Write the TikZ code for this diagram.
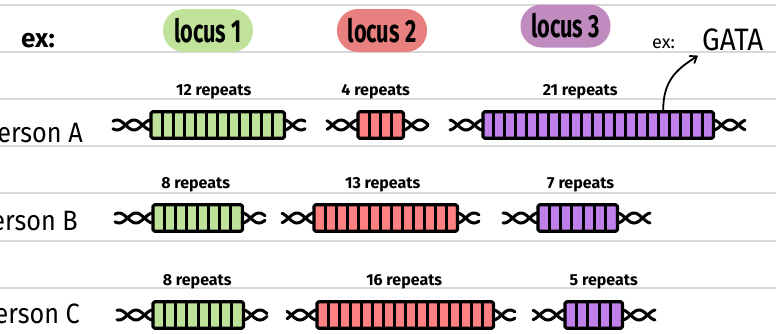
\documentclass[tikz,border=0pt]{standalone}
\usepackage{fontspec}
\usepackage{graphicx}
\setmainfont{Fira Sans}
\usetikzlibrary{arrows.meta}

\definecolor{rulegray}{HTML}{D9D9D9}
\definecolor{pillgreen}{HTML}{C1E29B}
\definecolor{pillred}{HTML}{E88080}
\definecolor{pillpurple}{HTML}{C08CC0}
\definecolor{repgreen}{HTML}{BFE29B}
\definecolor{repred}{HTML}{FF8080}
\definecolor{reppurple}{HTML}{C080EA}

\tikzset{
  ruleline/.style={draw=rulegray, line width=1.4pt},
  pill/.style={rounded corners=21pt, minimum width=90pt, minimum height=43pt,
    inner sep=0pt, font=\bfseries\fontsize{32}{34}\selectfont},
  repbox/.style={inner sep=0pt, minimum height=26pt},
  boxedge/.style={line width=3.2pt, rounded corners=1.5pt, line join=round},
  divider/.style={line width=3pt},
  strand/.style={line width=3pt, line cap=round, line join=round},
  replabel/.style={inner sep=0pt, font=\bfseries\fontsize{16}{18}\selectfont},
  personlabel/.style={inner sep=0pt, anchor=base east, font=\fontsize{28}{30}\selectfont},
}

% One STR locus: #1 name, #2 left x, #3 right x, #4 centre y, #5 repeats,
% #6 fill, #7 left flank length, #8 right flank length, #9 label x offset
\newcommand\strlocus[9]{%
  \pgfmathsetmacro\bw{#3-#2}
  \pgfmathtruncatemacro\nlast{#5-1}
  \node[repbox, fill=#6, minimum width=\bw pt, anchor=west] (#1) at (#2,#4) {};
  \foreach \k in {1,...,\nlast}{%
    \pgfmathsetmacro\xx{\k*\bw/#5}
    \draw[divider] ([xshift=\xx pt]#1.south west) -- ([xshift=\xx pt]#1.north west);
  }
  \draw[boxedge] (#1.south west) rectangle (#1.north east);
  % twisted double strand on both flanks
  \draw[strand] plot[domain=0:#7, samples=40, smooth] ({#2-\x},{#4+5*cos(360*\x/34)});
  \draw[strand] plot[domain=0:#7, samples=40, smooth] ({#2-\x},{#4-5*cos(360*\x/34)});
  \draw[strand] plot[domain=0:#8, samples=40, smooth] ({#3+\x},{#4+5*cos(360*\x/34)});
  \draw[strand] plot[domain=0:#8, samples=40, smooth] ({#3+\x},{#4-5*cos(360*\x/34)});
  \node[replabel] (#1-lab) at ([xshift=#9pt, yshift=20pt]#1.north) {#5 repeats};
}

\begin{document}
\begin{tikzpicture}[x=1pt, y=-1pt]
\useasboundingbox (0,0) rectangle (776,333);

% ruled background
\foreach \ry in {5,52,99,146,193,241,288}
  \draw[ruleline] (0,\ry) -- (776,\ry);

% header
\node[inner sep=0pt, anchor=base west, font=\bfseries\fontsize{26}{28}\selectfont]
  (ex) at (21,47) {ex:};
\node[pill, fill=pillgreen] (locus1) at (208,30.5) {\scalebox{0.68}[1]{locus 1}};
\node[pill, fill=pillred] (locus2) at (382,30.5) {\scalebox{0.68}[1]{locus 2}};
\node[pill, fill=pillpurple] (locus3) at (565.5,26) {\scalebox{0.68}[1]{locus 3}};
\node[inner sep=0pt, anchor=base west, font=\fontsize{18}{20}\selectfont]
  (exsmall) at (652,48) {ex:};
\node[inner sep=0pt, anchor=base west, font=\fontsize{31}{33}\selectfont]
  (gata) at (702,50) {\scalebox{0.9}[1]{GATA}};

% people
\node[personlabel] (pA) at (83,142) {\scalebox{0.9}[1]{Person A}};
\node[personlabel] (pB) at (78,230) {\scalebox{0.9}[1]{Person B}};
\node[personlabel] (pC) at (80,323) {\scalebox{0.9}[1]{Person C}};

% person A
\strlocus{A1}{151}{284}{125}{12}{repgreen}{38}{21}{-4}
\strlocus{A2}{358}{403}{125}{4}{repred}{31}{25}{-5}
\strlocus{A3}{483}{713}{125}{21}{reppurple}{33}{32}{-18}
% person B
\strlocus{B1}{153}{242}{218}{8}{repgreen}{38}{23}{-2}
\strlocus{B2}{314}{457}{218}{13}{repred}{32}{22}{-3}
\strlocus{B3}{538}{617}{218}{7}{reppurple}{35}{33}{3}
% person C
\strlocus{C1}{153}{243}{315}{8}{repgreen}{36}{24}{-1}
\strlocus{C2}{317}{493}{315}{16}{repred}{30}{22}{-1}
\strlocus{C3}{565}{622}{315}{5}{reppurple}{32}{33}{10}

% repeat unit pointer
\coordinate (unit) at ([xshift=65pt, yshift=2pt]A3.north);
\draw[line width=1.8pt, line cap=round, -{Straight Barb[length=6pt, width=9pt]}]
  (unit) .. controls ++(0,-32) and ++(-18,12) .. ([xshift=-4pt, yshift=-5pt]gata.south west);
\end{tikzpicture}
\end{document}
